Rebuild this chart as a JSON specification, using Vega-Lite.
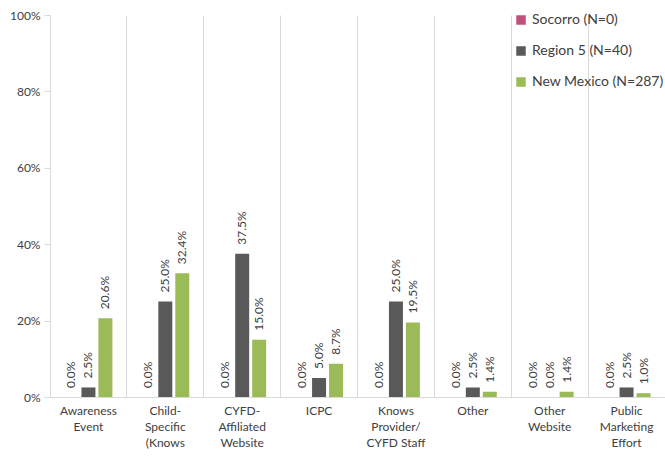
{
  "$schema": "https://vega.github.io/schema/vega-lite/v6.json",
  "width": 615,
  "height": 382,
  "autosize": {"type": "none"},
  "padding": {"left": 50, "top": 15, "right": 0, "bottom": 60},
  "background": "white",
  "config": {"font": "Lato", "view": {"stroke": null}},
  "data": {"values": [
    {"cat": "Awareness|Event", "series": "Socorro (N=0)", "value": 0.0},
    {"cat": "Awareness|Event", "series": "Region 5  (N=40)", "value": 0.025},
    {"cat": "Awareness|Event", "series": "New Mexico (N=287)", "value": 0.206},
    {"cat": "Child-|Specific|(Knows", "series": "Socorro (N=0)", "value": 0.0},
    {"cat": "Child-|Specific|(Knows", "series": "Region 5  (N=40)", "value": 0.25},
    {"cat": "Child-|Specific|(Knows", "series": "New Mexico (N=287)", "value": 0.324},
    {"cat": "CYFD-|Affiliated|Website", "series": "Socorro (N=0)", "value": 0.0},
    {"cat": "CYFD-|Affiliated|Website", "series": "Region 5  (N=40)", "value": 0.375},
    {"cat": "CYFD-|Affiliated|Website", "series": "New Mexico (N=287)", "value": 0.15},
    {"cat": "ICPC", "series": "Socorro (N=0)", "value": 0.0},
    {"cat": "ICPC", "series": "Region 5  (N=40)", "value": 0.05},
    {"cat": "ICPC", "series": "New Mexico (N=287)", "value": 0.087},
    {"cat": "Knows|Provider/|CYFD Staff", "series": "Socorro (N=0)", "value": 0.0},
    {"cat": "Knows|Provider/|CYFD Staff", "series": "Region 5  (N=40)", "value": 0.25},
    {"cat": "Knows|Provider/|CYFD Staff", "series": "New Mexico (N=287)", "value": 0.195},
    {"cat": "Other", "series": "Socorro (N=0)", "value": 0.0},
    {"cat": "Other", "series": "Region 5  (N=40)", "value": 0.025},
    {"cat": "Other", "series": "New Mexico (N=287)", "value": 0.014},
    {"cat": "Other|Website", "series": "Socorro (N=0)", "value": 0.0},
    {"cat": "Other|Website", "series": "Region 5  (N=40)", "value": 0.0},
    {"cat": "Other|Website", "series": "New Mexico (N=287)", "value": 0.014},
    {"cat": "Public|Marketing|Effort", "series": "Socorro (N=0)", "value": 0.0},
    {"cat": "Public|Marketing|Effort", "series": "Region 5  (N=40)", "value": 0.025},
    {"cat": "Public|Marketing|Effort", "series": "New Mexico (N=287)", "value": 0.01}
  ]},
  "encoding": {
    "x": {
      "field": "cat", "type": "nominal", "sort": null,
      "scale": {"paddingInner": 0, "paddingOuter": 0},
      "axis": {
        "title": null, "labelAngle": 0, "labelExpr": "split(datum.label, '|')",
        "labelFontSize": 12, "labelColor": "#404040", "labelPadding": 8, "labelLineHeight": 16,
        "labelBaseline": "top",
        "ticks": false, "grid": true, "bandPosition": 0, "gridColor": "#d9d9d9",
        "domainColor": "#d9d9d9"
      }
    },
    "xOffset": {
      "field": "series", "type": "nominal",
      "sort": ["Socorro (N=0)", "Region 5  (N=40)", "New Mexico (N=287)"],
      "scale": {"paddingInner": 0.176, "paddingOuter": 0.853}
    },
    "y": {
      "field": "value", "type": "quantitative",
      "scale": {"domain": [0, 1]},
      "axis": {
        "title": null, "format": "%", "values": [0, 0.2, 0.4, 0.6, 0.8, 1],
        "grid": false, "tickSize": 6, "tickColor": "#d9d9d9", "domainColor": "#d9d9d9",
        "labelFontSize": 12, "labelColor": "#404040", "labelPadding": 4
      }
    }
  },
  "layer": [
    {
      "mark": {"type": "bar"},
      "encoding": {
        "color": {
          "field": "series", "type": "nominal",
          "scale": {
            "domain": ["Socorro (N=0)", "Region 5  (N=40)", "New Mexico (N=287)"],
            "range": ["#C0507A", "#595959", "#9BBB59"]
          },
          "legend": {
            "title": null, "orient": "none", "legendX": 464, "legendY": -2,
            "symbolType": "square", "symbolSize": 90, "symbolStrokeWidth": 0,
            "labelFontSize": 14, "labelColor": "#404040", "rowPadding": 17, "labelOffset": 4
          }
        }
      }
    },
    {
      "mark": {"type": "text", "angle": 270, "align": "left", "baseline": "middle", "dx": 9, "fontSize": 12, "color": "#404040"},
      "encoding": {"text": {"field": "value", "type": "quantitative", "format": ".1%"}}
    }
  ]
}
